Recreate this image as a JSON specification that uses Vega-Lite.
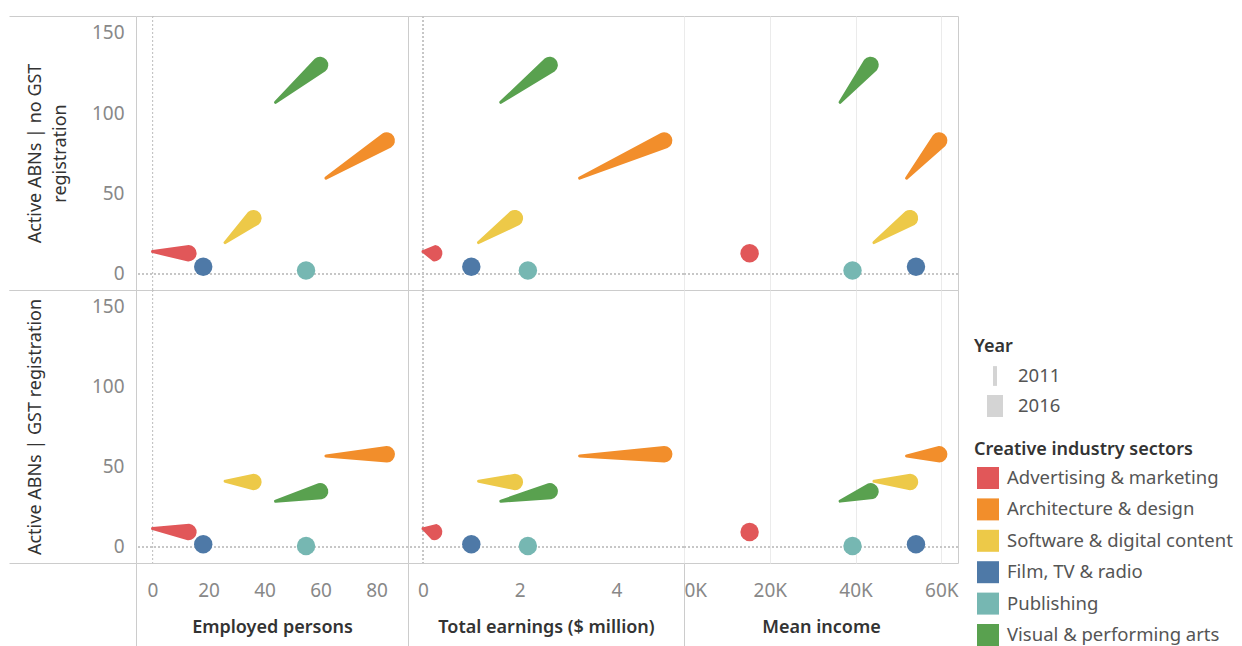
{
  "$schema": "https://vega.github.io/schema/vega-lite/v6.json",
  "padding": {"left": 8, "top": 6, "right": 0, "bottom": 0},
  "background": "white",
  "data": {"values": [
    {"sector": "Advertising & marketing", "year": 2011, "employed": 0, "earnings": 0, "income": null, "abn_nogst": 13.9, "abn_gst": 11.5},
    {"sector": "Advertising & marketing", "year": 2016, "employed": 12.8, "earnings": 0.23, "income": 15300, "abn_nogst": 12.9, "abn_gst": 9.4},
    {"sector": "Architecture & design", "year": 2011, "employed": 61.9, "earnings": 3.24, "income": 51900, "abn_nogst": 59.6, "abn_gst": 56.9},
    {"sector": "Architecture & design", "year": 2016, "employed": 83.6, "earnings": 4.99, "income": 59500, "abn_nogst": 83.0, "abn_gst": 57.9},
    {"sector": "Software & digital content", "year": 2011, "employed": 25.9, "earnings": 1.15, "income": 44300, "abn_nogst": 19.5, "abn_gst": 41.0},
    {"sector": "Software & digital content", "year": 2016, "employed": 36.0, "earnings": 1.90, "income": 52700, "abn_nogst": 34.7, "abn_gst": 40.6},
    {"sector": "Film, TV & radio", "year": 2016, "employed": 18.1, "earnings": 1.0, "income": 54100, "abn_nogst": 4.5, "abn_gst": 1.7},
    {"sector": "Publishing", "year": 2016, "employed": 54.8, "earnings": 2.17, "income": 39300, "abn_nogst": 2.1, "abn_gst": 0.6},
    {"sector": "Visual & performing arts", "year": 2011, "employed": 43.9, "earnings": 1.61, "income": 36400, "abn_nogst": 106.8, "abn_gst": 28.6},
    {"sector": "Visual & performing arts", "year": 2016, "employed": 59.8, "earnings": 2.62, "income": 43500, "abn_nogst": 130.0, "abn_gst": 34.8}
  ]},
  "columns": 3,
  "spacing": 0,
  "bounds": "flush",
  "resolve": {"scale": {"x": "independent", "y": "independent"}},
  "concat": [
    {
      "width": 272, "height": 274,
      "layer": [
        {"mark": {"type": "rule", "color": "#c6c6c6", "strokeDash": [2, 2], "strokeWidth": 1}, "encoding": {"y": {"datum": 0, "type": "quantitative"}}},
        {"mark": {"type": "rule", "color": "#c6c6c6", "strokeDash": [2, 2], "strokeWidth": 1}, "encoding": {"x": {"datum": 0, "type": "quantitative"}}},
        {"mark": {"type": "trail"},
         "encoding": {
           "x": {"field": "employed", "type": "quantitative", "scale": {"domain": [-5.9, 91.2], "nice": false, "zero": false},
                 "axis": {"values": [-5.9, 0, 20, 40, 60, 80], "labels": false, "ticks": false, "title": null, "gridOpacity": {"condition": {"test": "datum.value === 0", "value": 0}, "value": 1}}},
           "y": {"field": "abn_nogst", "type": "quantitative", "scale": {"domain": [-10, 160.5], "nice": false, "zero": false},
                 "axis": {"values": [-10, 0, 50, 100, 150, 160.5], "title": ["Active ABNs | no GST", "registration"],
                          "labelExpr": "datum.value < -5 || datum.value > 160 ? '' : datum.label",
                          "tickSize": 127, "tickOpacity": {"condition": {"test": "datum.value < -5 || datum.value > 160", "value": 1}, "value": 0},
                          "labelPadding": -115, "gridOpacity": {"condition": {"test": "datum.value === 0", "value": 0}, "value": 1},
                          "titleX": -110, "titleY": 137, "titleAngle": -90, "titleBaseline": "top", "titleAlign": "center", "titleLineHeight": 25, "titleFontWeight": "normal"}},
           "size": {"field": "year", "type": "quantitative", "scale": {"domain": [2011, 2016], "range": [3, 16.5]}, "legend": null},
           "order": {"field": "year"},
           "color": {"field": "sector", "type": "nominal",
                     "scale": {"domain": ["Advertising & marketing", "Architecture & design", "Software & digital content", "Film, TV & radio", "Publishing", "Visual & performing arts"],
                               "range": ["#e15759", "#f28e2b", "#edc948", "#4e79a7", "#76b7b2", "#59a14f"]},
                     "legend": {"title": "Creative industry sectors", "orient": "none", "legendX": 838, "legendY": 425}}
         }},
        {"transform": [{"joinaggregate": [{"op": "valid", "field": "employed", "as": "n"}], "groupby": ["sector"]}, {"filter": "datum.n == 1 && isValid(datum.employed)"}],
         "mark": {"type": "circle", "size": 340, "opacity": 1},
         "encoding": {"x": {"field": "employed", "type": "quantitative"}, "y": {"field": "abn_nogst", "type": "quantitative"}, "color": {"field": "sector", "type": "nominal"}}},
        {"mark": {"type": "point", "filled": true, "opacity": 0, "color": "#d4d4d4"},
         "encoding": {"x": {"field": "employed", "type": "quantitative"}, "y": {"field": "abn_nogst", "type": "quantitative"},
           "shape": {"field": "year", "type": "ordinal", "scale": {"range": ["M-0.18,-0.9L0.18,-0.9L0.18,0.9L-0.18,0.9Z", "M-0.73,-1L0.73,-1L0.73,1L-0.73,1Z"]},
                     "legend": {"title": "Year", "orient": "none", "legendX": 838, "legendY": 322, "symbolOffset": 10, "labelOffset": 12, "symbolSize": 484, "symbolOpacity": 1, "symbolStrokeWidth": 0, "symbolFillColor": "#d4d4d4", "rowPadding": 9, "titlePadding": 9}}}}
      ]
    },
    {
      "width": 276, "height": 274,
      "layer": [
        {"mark": {"type": "rule", "color": "#c6c6c6", "strokeDash": [2, 2], "strokeWidth": 1}, "encoding": {"y": {"datum": 0, "type": "quantitative"}}},
        {"mark": {"type": "rule", "color": "#c6c6c6", "strokeDash": [2, 2], "strokeWidth": 1}, "encoding": {"x": {"datum": 0, "type": "quantitative"}}},
        {"mark": {"type": "trail"},
         "encoding": {
           "x": {"field": "earnings", "type": "quantitative", "scale": {"domain": [-0.31, 5.4], "nice": false, "zero": false},
                 "axis": {"values": [-0.31, 0, 2, 4], "labels": false, "ticks": false, "title": null, "gridOpacity": {"condition": {"test": "datum.value === 0", "value": 0}, "value": 1}}},
           "y": {"field": "abn_nogst", "type": "quantitative", "scale": {"domain": [-10, 160.5], "nice": false, "zero": false},
                 "axis": {"values": [0, 50, 100, 150], "labels": false, "ticks": false, "title": null, "gridOpacity": {"condition": {"test": "datum.value === 0", "value": 0}, "value": 1}}},
           "size": {"field": "year", "type": "quantitative", "legend": null},
           "order": {"field": "year"},
           "color": {"field": "sector", "type": "nominal"}
         }},
        {"transform": [{"joinaggregate": [{"op": "valid", "field": "earnings", "as": "n"}], "groupby": ["sector"]}, {"filter": "datum.n == 1 && isValid(datum.earnings)"}],
         "mark": {"type": "circle", "size": 340, "opacity": 1},
         "encoding": {"x": {"field": "earnings", "type": "quantitative"}, "y": {"field": "abn_nogst", "type": "quantitative"}, "color": {"field": "sector", "type": "nominal"}}}
      ]
    },
    {
      "width": 274, "height": 274,
      "layer": [
        {"mark": {"type": "rule", "color": "#c6c6c6", "strokeDash": [2, 2], "strokeWidth": 1}, "encoding": {"y": {"datum": 0, "type": "quantitative"}}},
        {"mark": {"type": "trail"},
         "encoding": {
           "x": {"field": "income", "type": "quantitative", "scale": {"domain": [0, 63900], "nice": false, "zero": false},
                 "axis": {"values": [0, 20000, 40000, 60000], "labels": false, "ticks": false, "title": null}},
           "y": {"field": "abn_nogst", "type": "quantitative", "scale": {"domain": [-10, 160.5], "nice": false, "zero": false},
                 "axis": {"values": [0, 50, 100, 150], "labels": false, "ticks": false, "title": null, "gridOpacity": {"condition": {"test": "datum.value === 0", "value": 0}, "value": 1}}},
           "size": {"field": "year", "type": "quantitative", "legend": null},
           "order": {"field": "year"},
           "color": {"field": "sector", "type": "nominal"}
         }},
        {"transform": [{"joinaggregate": [{"op": "valid", "field": "income", "as": "n"}], "groupby": ["sector"]}, {"filter": "datum.n == 1 && isValid(datum.income)"}],
         "mark": {"type": "circle", "size": 340, "opacity": 1},
         "encoding": {"x": {"field": "income", "type": "quantitative"}, "y": {"field": "abn_nogst", "type": "quantitative"}, "color": {"field": "sector", "type": "nominal"}}}
      ]
    },
    {
      "width": 272, "height": 273,
      "layer": [
        {"mark": {"type": "rule", "color": "#c6c6c6", "strokeDash": [2, 2], "strokeWidth": 1}, "encoding": {"y": {"datum": 0, "type": "quantitative"}}},
        {"mark": {"type": "rule", "color": "#c6c6c6", "strokeDash": [2, 2], "strokeWidth": 1}, "encoding": {"x": {"datum": 0, "type": "quantitative"}}},
        {"mark": {"type": "trail"},
         "encoding": {
           "x": {"field": "employed", "type": "quantitative", "scale": {"domain": [-5.9, 91.2], "nice": false, "zero": false},
                 "axis": {"values": [-5.9, 0, 20, 40, 60, 80], "title": "Employed persons",
                          "labelExpr": "datum.value < -5 ? '' : datum.label",
                          "tickSize": 83, "tickOpacity": {"condition": {"test": "datum.value < -5", "value": 1}, "value": 0},
                          "labelPadding": -65, "titleY": 69, "titleBaseline": "alphabetic",
                          "gridOpacity": {"condition": {"test": "datum.value === 0", "value": 0}, "value": 1}}},
           "y": {"field": "abn_gst", "type": "quantitative", "scale": {"domain": [-10, 160.5], "nice": false, "zero": false},
                 "axis": {"values": [-10, 0, 50, 100, 150, 160.5], "title": "Active ABNs | GST registration",
                          "labelExpr": "datum.value < -5 || datum.value > 160 ? '' : datum.label",
                          "tickSize": 127, "tickOpacity": {"condition": {"test": "datum.value < -5 || datum.value > 160", "value": 1}, "value": 0},
                          "labelPadding": -115, "gridOpacity": {"condition": {"test": "datum.value === 0", "value": 0}, "value": 1},
                          "titleX": -110, "titleY": 136.5, "titleAngle": -90, "titleBaseline": "top", "titleAlign": "center", "titleFontWeight": "normal"}},
           "size": {"field": "year", "type": "quantitative", "legend": null},
           "order": {"field": "year"},
           "color": {"field": "sector", "type": "nominal"}
         }},
        {"transform": [{"joinaggregate": [{"op": "valid", "field": "employed", "as": "n"}], "groupby": ["sector"]}, {"filter": "datum.n == 1 && isValid(datum.employed)"}],
         "mark": {"type": "circle", "size": 340, "opacity": 1},
         "encoding": {"x": {"field": "employed", "type": "quantitative"}, "y": {"field": "abn_gst", "type": "quantitative"}, "color": {"field": "sector", "type": "nominal"}}}
      ]
    },
    {
      "width": 276, "height": 273,
      "layer": [
        {"mark": {"type": "rule", "color": "#c6c6c6", "strokeDash": [2, 2], "strokeWidth": 1}, "encoding": {"y": {"datum": 0, "type": "quantitative"}}},
        {"mark": {"type": "rule", "color": "#c6c6c6", "strokeDash": [2, 2], "strokeWidth": 1}, "encoding": {"x": {"datum": 0, "type": "quantitative"}}},
        {"mark": {"type": "trail"},
         "encoding": {
           "x": {"field": "earnings", "type": "quantitative", "scale": {"domain": [-0.31, 5.4], "nice": false, "zero": false},
                 "axis": {"values": [-0.31, 0, 2, 4], "title": "Total earnings ($ million)",
                          "labelExpr": "datum.value < -0.2 ? '' : datum.label",
                          "tickSize": 83, "tickOpacity": {"condition": {"test": "datum.value < -0.2", "value": 1}, "value": 0},
                          "labelPadding": -65, "titleY": 69, "titleBaseline": "alphabetic",
                          "gridOpacity": {"condition": {"test": "datum.value === 0", "value": 0}, "value": 1}}},
           "y": {"field": "abn_gst", "type": "quantitative", "scale": {"domain": [-10, 160.5], "nice": false, "zero": false},
                 "axis": {"values": [0, 50, 100, 150], "labels": false, "ticks": false, "title": null, "gridOpacity": {"condition": {"test": "datum.value === 0", "value": 0}, "value": 1}}},
           "size": {"field": "year", "type": "quantitative", "legend": null},
           "order": {"field": "year"},
           "color": {"field": "sector", "type": "nominal"}
         }},
        {"transform": [{"joinaggregate": [{"op": "valid", "field": "earnings", "as": "n"}], "groupby": ["sector"]}, {"filter": "datum.n == 1 && isValid(datum.earnings)"}],
         "mark": {"type": "circle", "size": 340, "opacity": 1},
         "encoding": {"x": {"field": "earnings", "type": "quantitative"}, "y": {"field": "abn_gst", "type": "quantitative"}, "color": {"field": "sector", "type": "nominal"}}}
      ]
    },
    {
      "width": 274, "height": 273,
      "layer": [
        {"mark": {"type": "rule", "color": "#c6c6c6", "strokeDash": [2, 2], "strokeWidth": 1}, "encoding": {"y": {"datum": 0, "type": "quantitative"}}},
        {"mark": {"type": "trail"},
         "encoding": {
           "x": {"field": "income", "type": "quantitative", "scale": {"domain": [0, 63900], "nice": false, "zero": false},
                 "axis": {"values": [0, 20000, 40000, 60000], "title": "Mean income",
                          "labelExpr": "(datum.value / 1000) + 'K'", "labelFlush": true,
                          "tickSize": 83, "tickOpacity": {"condition": {"test": "datum.value === 0", "value": 1}, "value": 0},
                          "labelPadding": -65, "titleY": 69, "titleBaseline": "alphabetic"}},
           "y": {"field": "abn_gst", "type": "quantitative", "scale": {"domain": [-10, 160.5], "nice": false, "zero": false},
                 "axis": {"values": [0, 50, 100, 150], "labels": false, "ticks": false, "title": null, "gridOpacity": {"condition": {"test": "datum.value === 0", "value": 0}, "value": 1}}},
           "size": {"field": "year", "type": "quantitative", "legend": null},
           "order": {"field": "year"},
           "color": {"field": "sector", "type": "nominal"}
         }},
        {"transform": [{"joinaggregate": [{"op": "valid", "field": "income", "as": "n"}], "groupby": ["sector"]}, {"filter": "datum.n == 1 && isValid(datum.income)"}],
         "mark": {"type": "circle", "size": 340, "opacity": 1},
         "encoding": {"x": {"field": "income", "type": "quantitative"}, "y": {"field": "abn_gst", "type": "quantitative"}, "color": {"field": "sector", "type": "nominal"}}}
      ]
    }
  ],
  "config": {
    "font": "Noto Sans",
    "view": {"stroke": "#cccccc", "strokeWidth": 1},
    "axis": {
      "domain": false, "labelFontSize": 19, "labelColor": "#888888", "labelFont": "Noto Sans",
      "titleFontSize": 18, "titleColor": "#333333", "titleFontWeight": 600, "titleFont": "Noto Sans",
      "gridColor": "#ebebeb", "gridWidth": 1, "tickColor": "#cccccc", "tickWidth": 1, "labelOverlap": false
    },
    "legend": {
      "symbolType": "square", "symbolSize": 484, "symbolStrokeWidth": 0, "symbolOffset": 3, "labelOffset": 8,
      "rowPadding": 9.4, "titlePadding": 8, "padding": 0,
      "labelFontSize": 18.5, "labelColor": "#555555", "labelFont": "Noto Sans", "labelLimit": 400, "titleLimit": 400,
      "titleFontSize": 18, "titleColor": "#333333", "titleFontWeight": 600, "titleFont": "Noto Sans"
    }
  }
}
